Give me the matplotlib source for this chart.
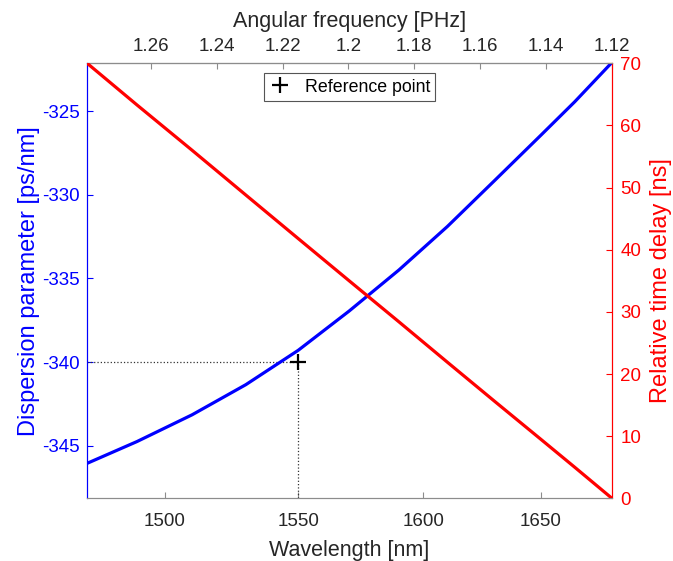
import numpy as np
import matplotlib
matplotlib.use("Agg")
import matplotlib.pyplot as plt

plt.rcParams['font.family'] = ['Liberation Sans', 'DejaVu Sans']

TWO_PI_C = 1883.65  # PHz * nm

# data
wavelength_nm = [1472.4, 1490, 1510, 1530, 1550, 1570, 1590, 1610, 1630, 1650, 1665, 1681.8]
dispersion_ps_nm = [-346.05, -344.75, -343.15, -341.35, -339.3, -336.95, -334.5, -331.9,
                    -329.15, -326.45, -324.45, -322.1]
delay_ns = [70.0, 63.3, 56.0, 48.8, 41.8, 35.0, 28.4, 21.9, 15.6, 9.5, 5.0, 0.0]

ref_wavelength = 1550
ref_dispersion = -340

bottom_ticks_nm = [1500, 1550, 1600, 1650]
top_ticks_phz = [1.12, 1.14, 1.16, 1.18, 1.2, 1.22, 1.24, 1.26]
left_ticks = [-345, -340, -335, -330, -325]
right_ticks = [0, 10, 20, 30, 40, 50, 60, 70]

BLUE = '#0000ff'
RED = '#ff0000'
GRAY = '#262626'
SPINE = '#8c8c8c'
XLEFT, XRIGHT = 1.27936, 1.1200
YBOT, YTOP = -348.14, -322.15

fig = plt.figure(figsize=(6.73, 5.61), dpi=100)
ax = fig.add_axes([87/673, 1-498.3/561, (612-87)/673, (498.3-63.3)/561])

omega = TWO_PI_C / np.array(wavelength_nm)
ref_omega = TWO_PI_C / ref_wavelength

ax.set_xlim(XLEFT, XRIGHT)
ax.set_ylim(YBOT, YTOP)

ax.plot(omega, dispersion_ps_nm, color=BLUE, lw=2.3, solid_capstyle='butt', zorder=3)
ax.plot([ref_omega, ref_omega], [YBOT, ref_dispersion], color='#333333', ls=':', lw=0.9, zorder=2)
ax.plot([XLEFT, ref_omega], [ref_dispersion, ref_dispersion], color='#333333', ls=':', lw=0.9, zorder=2)
ref_handle, = ax.plot([ref_omega], [ref_dispersion], ls='none', marker='+', ms=11, mew=1.6,
                      color='black', zorder=5, label='Reference point')

ax.set_xticks(TWO_PI_C / np.array(bottom_ticks_nm))
ax.set_xticklabels([str(t) for t in bottom_ticks_nm])
ax.set_yticks(left_ticks)
ax.set_yticklabels([str(t) for t in left_ticks])
ax.tick_params(axis='x', direction='in', length=4, width=0.8, colors=SPINE, labelcolor=GRAY,
               labelsize=13.5, pad=10.5)
ax.tick_params(axis='y', direction='in', length=4, width=0.8, colors=BLUE, labelcolor=BLUE,
               labelsize=13.5, pad=5)
ax.set_xlabel('Wavelength [nm]', fontsize=15.5, color=GRAY, labelpad=7)
ax.set_ylabel('Dispersion parameter [ps/nm]', fontsize=17, color=BLUE, labelpad=2)

ax2 = ax.twinx()
ax2.plot(omega, delay_ns, color=RED, lw=2.3, solid_capstyle='butt', zorder=3)
ax2.set_ylim(0, 70)
ax2.set_yticks(right_ticks)
ax2.set_yticklabels([str(t) for t in right_ticks])
ax2.tick_params(axis='y', direction='in', length=4, width=0.8, colors=RED, labelcolor=RED,
                labelsize=13.5, pad=6)
ax2.set_ylabel('Relative time delay [ns]', fontsize=17, color=RED, labelpad=6)

top = ax.secondary_xaxis('top')
top.set_xticks(top_ticks_phz)
top.set_xticklabels(['%g' % t for t in top_ticks_phz])
top.tick_params(axis='x', direction='in', length=4, width=0.8, colors=SPINE, labelcolor=GRAY,
                labelsize=13.5, pad=6)
top.set_xlabel('Angular frequency [PHz]', fontsize=15.5, color=GRAY, labelpad=8)
top.spines['top'].set_color(SPINE)

for a in (ax, ax2):
    a.spines['top'].set_color(SPINE)
    a.spines['bottom'].set_color(SPINE)
    a.spines['left'].set_color(BLUE)
    a.spines['right'].set_color(RED)
    for s in a.spines.values():
        s.set_linewidth(0.8)

leg = ax2.legend([ref_handle], ['Reference point'], loc='upper center',
                 bbox_to_anchor=(0.5, 0.977), borderaxespad=0, fontsize=12.8,
                 fancybox=False, framealpha=1, edgecolor='#555555',
                 handlelength=1.2, handletextpad=0.8, borderpad=0.3)
leg.get_frame().set_linewidth(0.8)

fig.savefig('out.png', dpi=100)
